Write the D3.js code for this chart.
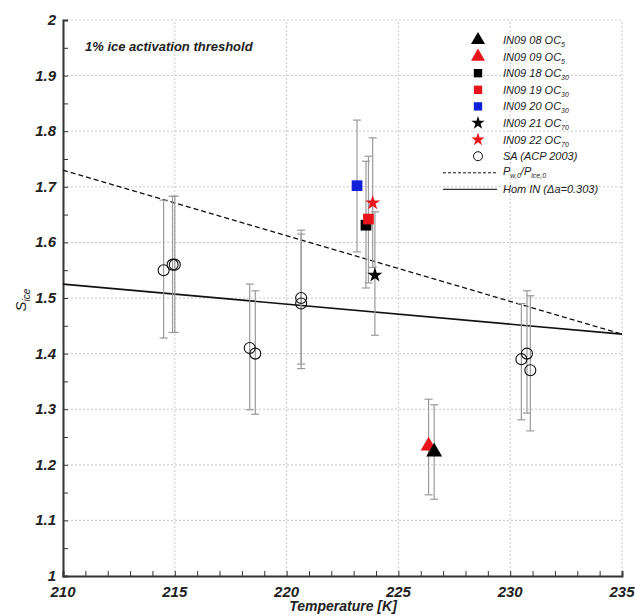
<!DOCTYPE html>
<html><head><meta charset="utf-8">
<script src="https://cdn.jsdelivr.net/npm/d3@7"></script>
<style>body{margin:0;background:#fff}svg{display:block}text{font-family:"Liberation Sans",Arial,sans-serif}</style>
</head><body><svg id="c" width="635" height="615"></svg>
<script>
// SA (ACP 2003) points: T, S, errLow, errHigh
const saT   = [214.5, 214.9, 215.0, 218.35, 218.6, 220.65, 220.65, 230.5, 230.75, 230.9];
const saS   = [1.55, 1.56, 1.56, 1.41, 1.40, 1.50, 1.49, 1.39, 1.40, 1.37];
const saLo  = [1.428, 1.438, 1.438, 1.299, 1.291, 1.381, 1.373, 1.281, 1.293, 1.261];
const saHi  = [1.676, 1.683, 1.683, 1.525, 1.513, 1.622, 1.615, 1.490, 1.513, 1.504];
// IN09 experiments
const inNames = ["IN09 08 OC", "IN09 09 OC", "IN09 18 OC", "IN09 19 OC", "IN09 20 OC", "IN09 21 OC", "IN09 22 OC"];
const inSubs  = ["5", "5", "30", "30", "30", "70", "70"];
const inShape = ["triangle", "triangle", "square", "square", "square", "star", "star"];
const inColor = ["#000000", "#e8141b", "#000000", "#e8141b", "#1020d8", "#000000", "#e8141b"];
const inT     = [226.6, 226.35, 223.55, 223.66, 223.15, 223.95, 223.85];
const inS     = [1.223, 1.234, 1.631, 1.642, 1.702, 1.541, 1.671];
const inLo    = [1.138, 1.146, 1.518, 1.527, 1.583, 1.433, 1.555];
const inHi    = [1.308, 1.318, 1.746, 1.755, 1.820, 1.655, 1.788];
// lines
const lineT = [210, 235];
const dashedS = [1.73, 1.435];
const solidS = [1.525, 1.435];
const xTicks = [210, 215, 220, 225, 230, 235];
const yTicks = [1, 1.1, 1.2, 1.3, 1.4, 1.5, 1.6, 1.7, 1.8, 1.9, 2];

const svg = d3.select("#c");
const x = d3.scaleLinear().domain([210, 235]).range([63, 622]);
const y = d3.scaleLinear().domain([1, 2]).range([576, 20]);

// grid
const g = svg.append("g");
g.selectAll(".gx").data(xTicks.slice(1)).join("line")
  .attr("x1", d => x(d)).attr("x2", d => x(d)).attr("y1", y(1)).attr("y2", y(2))
  .attr("stroke", "#c8c8c8").attr("stroke-width", 1).attr("stroke-dasharray", "2,2");
g.selectAll(".gy").data(yTicks.slice(1)).join("line")
  .attr("x1", x(210)).attr("x2", x(235)).attr("y1", d => y(d)).attr("y2", d => y(d))
  .attr("stroke", "#c8c8c8").attr("stroke-width", 1).attr("stroke-dasharray", "2,2");

// axes
const xAxis = d3.axisBottom(x).tickValues(d3.range(210, 235.5, 1)).tickSize(-5).tickFormat("");
const xa = svg.append("g").attr("transform", `translate(0,${y(1)})`).call(xAxis);
const yAxis = d3.axisLeft(y).tickValues(d3.range(1, 2.01, 0.05)).tickSize(-5).tickFormat("");
const ya = svg.append("g").attr("transform", `translate(${x(210)},0)`).call(yAxis);
[xa, ya].forEach(a => { a.select(".domain").attr("stroke", "#333").attr("stroke-width", 2); a.selectAll(".tick line").attr("stroke", "#333"); });

svg.selectAll(".xl").data(xTicks).join("text")
  .attr("x", d => x(d)).attr("y", 597).attr("text-anchor", "middle")
  .attr("font-size", 15).attr("font-style", "italic").attr("font-weight", "bold").attr("fill", "#222")
  .text(d => d);
svg.selectAll(".yl").data(yTicks).join("text")
  .attr("x", 56).attr("y", d => y(d) + 5).attr("text-anchor", "end")
  .attr("font-size", 15).attr("font-style", "italic").attr("font-weight", "bold").attr("fill", "#222")
  .text(d => d === 1 || d === 2 ? d : d3.format(".1f")(d));

svg.append("text").attr("x", 343).attr("y", 611).attr("text-anchor", "middle")
  .attr("font-size", 14).attr("font-style", "italic").attr("font-weight", "bold").attr("fill", "#222")
  .text("Temperature [K]");
const yt = svg.append("text").attr("transform", "translate(26,300) rotate(-90)").attr("text-anchor", "middle")
  .attr("font-size", 15).attr("font-style", "italic").attr("fill", "#222");
yt.append("tspan").text("S");
yt.append("tspan").attr("font-size", 10).attr("dy", 4).text("ice");

svg.append("text").attr("x", 85).attr("y", 51)
  .attr("font-size", 13).attr("font-style", "italic").attr("font-weight", "bold").attr("fill", "#222")
  .text("1% ice activation threshold");

// lines
const ln = d3.line().x(d => x(d[0])).y(d => y(d[1]));
svg.append("path").attr("d", ln(lineT.map((t, i) => [t, dashedS[i]])))
  .attr("stroke", "#111").attr("stroke-width", 1.3).attr("stroke-dasharray", "5,3").attr("fill", "none");
svg.append("path").attr("d", ln(lineT.map((t, i) => [t, solidS[i]])))
  .attr("stroke", "#111").attr("stroke-width", 1.6).attr("fill", "none");

// error bars
function errbar(T, lo, hi) {
  const e = svg.append("g").attr("stroke", "#9a9a9a").attr("stroke-width", 1.2);
  e.append("line").attr("x1", x(T)).attr("x2", x(T)).attr("y1", y(lo)).attr("y2", y(hi));
  e.append("line").attr("x1", x(T) - 4).attr("x2", x(T) + 4).attr("y1", y(lo)).attr("y2", y(lo));
  e.append("line").attr("x1", x(T) - 4).attr("x2", x(T) + 4).attr("y1", y(hi)).attr("y2", y(hi));
}
saT.forEach((t, i) => errbar(t, saLo[i], saHi[i]));
inT.forEach((t, i) => errbar(t, inLo[i], inHi[i]));

svg.selectAll(".sa").data(saT).join("circle")
  .attr("cx", d => x(d)).attr("cy", (d, i) => y(saS[i])).attr("r", 5.5)
  .attr("fill", "none").attr("stroke", "#111").attr("stroke-width", 1.1);

const symSize = { triangle: 110, square: 115, star: 70 };
const symType = { triangle: d3.symbolTriangle, square: d3.symbolSquare, star: d3.symbolStar };
const order = [4, 2, 3, 5, 6, 1, 0];
order.forEach(i => {
  svg.append("path").attr("d", d3.symbol().type(symType[inShape[i]]).size(symSize[inShape[i]])())
    .attr("transform", `translate(${x(inT[i])},${y(inS[i])})`).attr("fill", inColor[i]);
});

// legend
const lx = 478, tx = 503, ly0 = 40, dy = 16.6;
inNames.forEach((n, i) => {
  const yy = ly0 + i * dy;
  const sz = inShape[i] === "star" ? 55 : (inShape[i] === "square" ? 70 : 85);
  svg.append("path").attr("d", d3.symbol().type(symType[inShape[i]]).size(sz)())
    .attr("transform", `translate(${lx},${yy})`).attr("fill", inColor[i]);
  const t = svg.append("text").attr("x", tx).attr("y", yy + 4).attr("font-size", 11)
    .attr("font-style", "italic").attr("fill", "#222");
  t.append("tspan").text(n);
  t.append("tspan").attr("font-size", 7).attr("dy", 3).text(inSubs[i]);
});
let yy = ly0 + 7 * dy;
svg.append("circle").attr("cx", lx).attr("cy", yy).attr("r", 4.5).attr("fill", "none").attr("stroke", "#111");
svg.append("text").attr("x", tx).attr("y", yy + 4).attr("font-size", 11).attr("font-style", "italic").attr("fill", "#222").text("SA (ACP 2003)");
yy = ly0 + 8 * dy;
svg.append("line").attr("x1", 443).attr("x2", 497).attr("y1", yy).attr("y2", yy).attr("stroke", "#111").attr("stroke-dasharray", "3,2");
const pt = svg.append("text").attr("x", tx).attr("y", yy + 2).attr("font-size", 11).attr("font-style", "italic").attr("fill", "#222");
pt.append("tspan").text("P");
pt.append("tspan").attr("font-size", 7).attr("dy", 3).text("w,0");
pt.append("tspan").attr("dy", -3).text("/P");
pt.append("tspan").attr("font-size", 7).attr("dy", 3).text("ice,0");
yy = ly0 + 9 * dy;
svg.append("line").attr("x1", 443).attr("x2", 497).attr("y1", yy).attr("y2", yy).attr("stroke", "#333").attr("stroke-width", 1.3);
svg.append("text").attr("x", tx).attr("y", yy + 4).attr("font-size", 11).attr("font-style", "italic").attr("fill", "#222").text("Hom IN (\u0394a=0.303)");
</script></body></html>
